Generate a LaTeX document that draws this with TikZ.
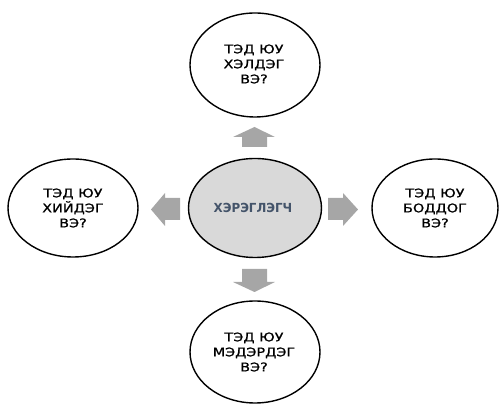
\documentclass[tikz,border=0pt]{standalone}
\usepackage{fontspec}
\newfontfamily\widesans[FakeStretch=1.2,FakeBold=0.8]{DejaVu Sans}
\newfontfamily\hubbold[FakeStretch=0.95]{DejaVu Sans Bold}
\definecolor{hubfill}{HTML}{D9D9D9}
\definecolor{arrowgrey}{HTML}{A6A6A6}
\definecolor{hubtext}{HTML}{44546A}
\begin{document}
\begin{tikzpicture}[x=1pt,y=1pt,
  qtext/.style={align=center, font=\widesans\fontsize{12}{15}\selectfont, text=black},
  blockarrow/.style={fill=arrowgrey, draw=none},
  rim/.style={line width=1.4pt, draw=black}]
\useasboundingbox (0,0) rectangle (499,404);

% central ellipse
\fill[hubfill] (255,196) ellipse [x radius=66.5, y radius=49.5];
\draw[rim] (255,196) ellipse [x radius=66.5, y radius=49.5];
\node[font=\hubbold\fontsize{12.5}{14}\selectfont, text=hubtext] (hub) at (253,196) {ХЭРЭГЛЭГЧ};

% outer ellipses
\draw[rim] (255,339) ellipse [x radius=65, y radius=52];
\draw[rim] (255,52) ellipse [x radius=65, y radius=51];
\draw[rim] (73,196) ellipse [x radius=65, y radius=49];
\draw[rim] (435,196) ellipse [x radius=63, y radius=49];

\node[qtext] (top) at (254,340) {ТЭД ЮУ\\ХЭЛДЭГ\\ВЭ?};
\node[qtext] (bottom) at (254,52) {ТЭД ЮУ\\МЭДЭРДЭГ\\ВЭ?};
\node[qtext] (left) at (73,196) {ТЭД ЮУ\\ХИЙДЭГ\\ВЭ?};
\node[qtext] (right) at (435,196) {ТЭД ЮУ\\БОДДОГ\\ВЭ?};

% block arrows pointing outwards from the centre
\fill[blockarrow] (242,257) -- (267,257) -- (267,267) -- (275,267) -- (254.5,277) -- (233,267) -- (242,267) -- cycle;
\fill[blockarrow] (242,135) -- (267,135) -- (267,122) -- (275,122) -- (254.5,112) -- (233,122) -- (242,122) -- cycle;
\fill[blockarrow] (180,184) -- (180,206) -- (165,206) -- (165,211) -- (151,194.5) -- (165,178) -- (165,184) -- cycle;
\fill[blockarrow] (328,184) -- (328,206) -- (343,206) -- (343,211) -- (358,194.5) -- (343,178) -- (343,184) -- cycle;
\end{tikzpicture}
\end{document}
